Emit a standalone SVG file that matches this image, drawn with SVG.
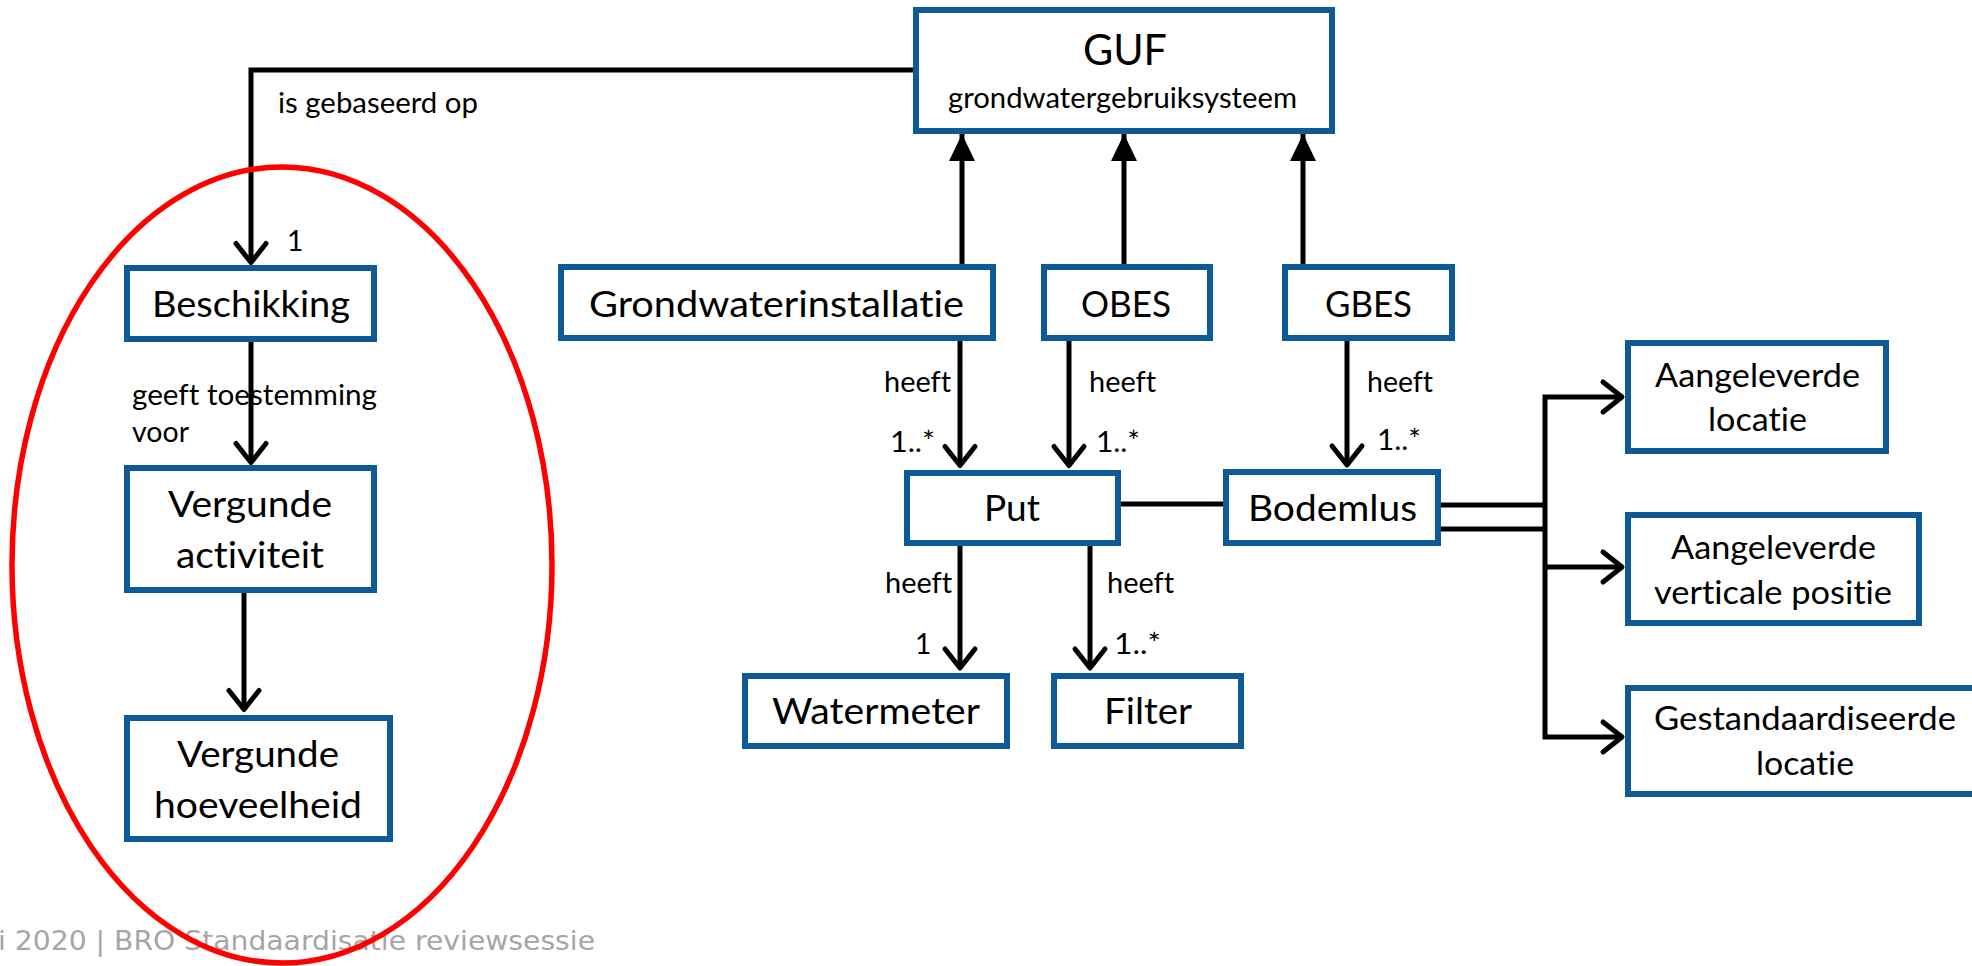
<svg xmlns="http://www.w3.org/2000/svg" width="1972" height="966" viewBox="0 0 1972 966">
  <style>
    .box { fill: #ffffff; stroke: #0e5a96; stroke-width: 6; }
    .t { font-family: Lato, "Noto Sans", sans-serif; fill: #000000; font-variant-ligatures: none; }
    .node { font-size: 37px; }
    .side { font-size: 33.5px; }
    .lbl { font-size: 28px; }
    .line { fill: none; stroke: #000000; stroke-width: 5; }
    .foot { font-family: "DejaVu Sans", Verdana, sans-serif; font-size: 27px; fill: #a6a6a6; }
  </style>
  <defs>
    <!-- open association arrowhead -->
    <marker id="open" markerUnits="userSpaceOnUse" markerWidth="60" markerHeight="60" refX="0" refY="0" orient="auto-start-reverse" overflow="visible">
      <path d="M-19,-15 L0,0 L-19,15" fill="none" stroke="#000" stroke-width="5" stroke-linejoin="round" stroke-linecap="round"/>
    </marker>
    <!-- filled generalisation arrowhead -->
    <marker id="tri" markerUnits="userSpaceOnUse" markerWidth="60" markerHeight="60" refX="0" refY="0" orient="auto" overflow="visible">
      <path d="M0,0 L-27,-13 L-27,13 Z" fill="#000"/>
    </marker>
  </defs>

  <rect width="1972" height="966" fill="#ffffff"/>

  <!-- footer -->
  <text class="foot" x="-2" y="950" textLength="597" lengthAdjust="spacingAndGlyphs">i 2020 | BRO Standaardisatie reviewsessie</text>

  <!-- nodes -->
  <g id="guf">
    <rect class="box" x="916" y="10" width="416" height="121"/>
    <text class="t" x="1083" y="65" font-size="42" textLength="84" lengthAdjust="spacingAndGlyphs">GUF</text>
    <text class="t lbl" x="948" y="108" textLength="349" lengthAdjust="spacingAndGlyphs">grondwatergebruiksysteem</text>
  </g>
  <g id="beschikking">
    <rect class="box" x="127" y="268" width="247" height="71"/>
    <text class="t node" x="152" y="317" textLength="198" lengthAdjust="spacingAndGlyphs">Beschikking</text>
  </g>
  <g id="vergunde-activiteit">
    <rect class="box" x="127" y="468" width="247" height="122"/>
    <text class="t node" x="168" y="517" textLength="164" lengthAdjust="spacingAndGlyphs">Vergunde</text>
    <text class="t node" x="176" y="568" textLength="148" lengthAdjust="spacingAndGlyphs">activiteit</text>
  </g>
  <g id="vergunde-hoeveelheid">
    <rect class="box" x="127" y="718" width="263" height="121"/>
    <text class="t node" x="177" y="767" textLength="162" lengthAdjust="spacingAndGlyphs">Vergunde</text>
    <text class="t node" x="154" y="818" textLength="208" lengthAdjust="spacingAndGlyphs">hoeveelheid</text>
  </g>
  <g id="grondwaterinstallatie">
    <rect class="box" x="561" y="267" width="432" height="71"/>
    <text class="t node" x="589" y="317" textLength="375" lengthAdjust="spacingAndGlyphs">Grondwaterinstallatie</text>
  </g>
  <g id="obes">
    <rect class="box" x="1044" y="267" width="166" height="71"/>
    <text class="t node" x="1081" y="317" textLength="90" lengthAdjust="spacingAndGlyphs">OBES</text>
  </g>
  <g id="gbes">
    <rect class="box" x="1285" y="267" width="167" height="71"/>
    <text class="t node" x="1325" y="317" textLength="87" lengthAdjust="spacingAndGlyphs">GBES</text>
  </g>
  <g id="put">
    <rect class="box" x="907" y="473" width="211" height="70"/>
    <text class="t node" x="984" y="521" textLength="56" lengthAdjust="spacingAndGlyphs">Put</text>
  </g>
  <g id="bodemlus">
    <rect class="box" x="1226" y="472" width="212" height="71"/>
    <text class="t node" x="1248" y="521" textLength="169" lengthAdjust="spacingAndGlyphs">Bodemlus</text>
  </g>
  <g id="watermeter">
    <rect class="box" x="745" y="676" width="262" height="70"/>
    <text class="t node" x="772" y="724" textLength="208" lengthAdjust="spacingAndGlyphs">Watermeter</text>
  </g>
  <g id="filter">
    <rect class="box" x="1054" y="676" width="187" height="70"/>
    <text class="t node" x="1104" y="724" textLength="88" lengthAdjust="spacingAndGlyphs">Filter</text>
  </g>
  <g id="aangeleverde-locatie">
    <rect class="box" x="1628" y="343" width="258" height="108"/>
    <text class="t side" x="1655" y="387" textLength="205" lengthAdjust="spacingAndGlyphs">Aangeleverde</text>
    <text class="t side" x="1708" y="431" textLength="99" lengthAdjust="spacingAndGlyphs">locatie</text>
  </g>
  <g id="aangeleverde-verticale-positie">
    <rect class="box" x="1628" y="515" width="291" height="108"/>
    <text class="t side" x="1671" y="559" textLength="205" lengthAdjust="spacingAndGlyphs">Aangeleverde</text>
    <text class="t side" x="1654" y="604" textLength="238" lengthAdjust="spacingAndGlyphs">verticale positie</text>
  </g>
  <g id="gestandaardiseerde-locatie">
    <rect class="box" x="1628" y="688" width="354" height="106"/>
    <text class="t side" x="1654" y="730" textLength="302" lengthAdjust="spacingAndGlyphs">Gestandaardiseerde</text>
    <text class="t side" x="1756" y="775" textLength="98" lengthAdjust="spacingAndGlyphs">locatie</text>
  </g>

  <!-- connectors -->
  <g id="connectors">
    <g id="connector-labels">
      <text class="t lbl" x="278" y="113" textLength="200" lengthAdjust="spacingAndGlyphs">is gebaseerd op</text>
      <text class="t lbl" x="287" y="251">1</text>
      <text class="t lbl" x="132" y="405" textLength="245" lengthAdjust="spacingAndGlyphs">geeft toestemming</text>
      <text class="t lbl" x="132" y="442" textLength="57" lengthAdjust="spacingAndGlyphs">voor</text>
      <text class="t lbl" x="884" y="392" textLength="67" lengthAdjust="spacingAndGlyphs">heeft</text>
      <text class="t lbl" x="890" y="452" textLength="45" lengthAdjust="spacingAndGlyphs">1..*</text>
      <text class="t lbl" x="1089" y="392" textLength="67" lengthAdjust="spacingAndGlyphs">heeft</text>
      <text class="t lbl" x="1096" y="452" textLength="44" lengthAdjust="spacingAndGlyphs">1..*</text>
      <text class="t lbl" x="1367" y="392" textLength="66" lengthAdjust="spacingAndGlyphs">heeft</text>
      <text class="t lbl" x="1377" y="450" textLength="44" lengthAdjust="spacingAndGlyphs">1..*</text>
      <text class="t lbl" x="885" y="593" textLength="67" lengthAdjust="spacingAndGlyphs">heeft</text>
      <text class="t lbl" x="915" y="654">1</text>
      <text class="t lbl" x="1107" y="593" textLength="67" lengthAdjust="spacingAndGlyphs">heeft</text>
      <text class="t lbl" x="1114" y="654" textLength="47" lengthAdjust="spacingAndGlyphs">1..*</text>
    </g>

    <!-- GUF to Beschikking -->
    <path class="line" d="M913,70 H251 V262.5" marker-end="url(#open)"/>
    <!-- left column -->
    <path class="line" d="M251,342 V462.5" marker-end="url(#open)"/>
    <path class="line" d="M244,593 V709.5" marker-end="url(#open)"/>

    <!-- specialisations of GUF -->
    <path class="line" d="M962,264 V134" marker-end="url(#tri)"/>
    <path class="line" d="M1124,264 V134" marker-end="url(#tri)"/>
    <path class="line" d="M1303,264 V134" marker-end="url(#tri)"/>

    <!-- heeft associations -->
    <path class="line" d="M960,341 V465.5" marker-end="url(#open)"/>
    <path class="line" d="M1069,341 V465.5" marker-end="url(#open)"/>
    <path class="line" d="M1347,341 V465" marker-end="url(#open)"/>
    <path class="line" d="M960,546 V668" marker-end="url(#open)"/>
    <path class="line" d="M1090,546 V668" marker-end="url(#open)"/>

    <!-- Put to Bodemlus -->
    <path class="line" d="M1121,504 H1223"/>

    <!-- Bodemlus to locations -->
    <path class="line" d="M1441,505 H1545"/>
    <path class="line" d="M1441,529 H1545"/>
    <path class="line" d="M1622,737 H1545 V397 H1622" marker-start="url(#open)" marker-end="url(#open)"/>
    <path class="line" d="M1545,567 H1622" marker-end="url(#open)"/>
  </g>

  <!-- highlighted permit group -->
  <ellipse cx="282" cy="565" rx="270" ry="398" fill="none" stroke="#ff0000" stroke-width="5.5"/>
</svg>
